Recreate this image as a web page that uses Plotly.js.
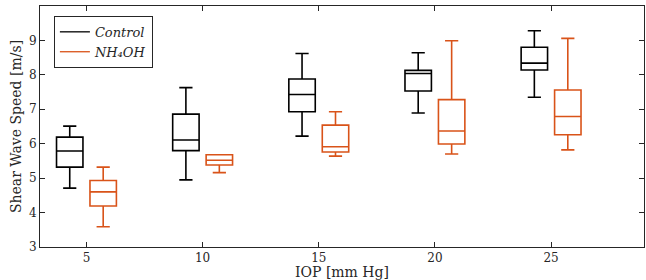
<!DOCTYPE html>
<html>
<head>
<meta charset="utf-8">
<script src="https://cdn.plot.ly/plotly-3.0.1.min.js"></script>
<style>html,body{margin:0;padding:0;background:#fff;}#chart{width:646px;height:280px;}</style>
</head>
<body>
<div id="chart"></div>
<script>
// IOP levels (mm Hg)
const iop = [5, 10, 15, 20, 25];
const xTicks = [5, 10, 15, 20, 25];
const yTicks = [3, 4, 5, 6, 7, 8, 9, 10];

// Control box statistics (m/s)
const ctrlLower  = [4.71, 4.95, 6.22, 6.89, 7.35];
const ctrlQ1     = [5.32, 5.80, 6.93, 7.53, 8.14];
const ctrlMedian = [5.79, 6.11, 7.43, 8.04, 8.34];
const ctrlQ3     = [6.19, 6.86, 7.88, 8.13, 8.80];
const ctrlUpper  = [6.51, 7.63, 8.62, 8.64, 9.28];

// NH4OH box statistics (m/s)
const nhLower  = [3.59, 5.16, 5.64, 5.70, 5.82];
const nhQ1     = [4.19, 5.38, 5.76, 5.99, 6.26];
const nhMedian = [4.60, 5.52, 5.91, 6.37, 6.79];
const nhQ3     = [4.93, 5.68, 6.54, 7.28, 7.56];
const nhUpper  = [5.32, 5.68, 6.93, 8.99, 9.06];

const black = '#000000';
const orange = '#D95319';
const font = 'DejaVu Serif';

function boxTrace(name, color, lo, q1, med, q3, hi) {
  return {
    type: 'box', name: name, x: iop,
    lowerfence: lo, q1: q1, median: med, q3: q3, upperfence: hi,
    line: {color: color, width: 1.6},
    fillcolor: 'rgba(0,0,0,0)',
    whiskerwidth: 0.5,
    boxpoints: false,
    showlegend: false,
    hoverinfo: 'skip'
  };
}

const data = [
  boxTrace('Control', black, ctrlLower, ctrlQ1, ctrlMedian, ctrlQ3, ctrlUpper),
  boxTrace('NH4OH', orange, nhLower, nhQ1, nhMedian, nhQ3, nhUpper),
  {type: 'scatter', mode: 'lines', x: [null], y: [null], name: '<i>Control</i>',
   line: {color: black, width: 1.3}, showlegend: true},
  {type: 'scatter', mode: 'lines', x: [null], y: [null], name: '<i>NH₄OH</i>',
   line: {color: orange, width: 1.3}, showlegend: true}
];

const axisCommon = {
  showline: true, linecolor: '#262626', linewidth: 1, mirror: 'ticks',
  ticks: 'inside', ticklen: 5, tickcolor: '#262626', tickwidth: 1,
  showgrid: false, zeroline: false,
  tickfont: {family: font, size: 12, color: '#262626'}
};

const layout = {
  width: 646, height: 280,
  margin: {l: 40, r: 2, t: 6, b: 33},
  paper_bgcolor: '#fff', plot_bgcolor: '#fff',
  font: {family: font, color: '#262626'},
  boxmode: 'group', boxgap: 0.424, boxgroupgap: 0.21,
  xaxis: Object.assign({}, axisCommon, {
    range: [3, 29], tickvals: xTicks, ticktext: xTicks.map(String),
    title: {text: 'IOP [mm Hg]', font: {family: font, size: 14, color: '#262626'}, standoff: 0}
  }),
  yaxis: Object.assign({}, axisCommon, {
    range: [3, 10], tickvals: yTicks, ticktext: yTicks.map(String),
    title: {text: 'Shear Wave Speed [m/s]', font: {family: font, size: 14, color: '#262626'}, standoff: 4}
  }),
  legend: {
    x: 0.023, y: 0.959, xanchor: 'left', yanchor: 'top',
    bordercolor: '#262626', borderwidth: 1, bgcolor: '#fff',
    font: {family: font, size: 13, color: '#262626'},
    tracegroupgap: 0, itemwidth: 30
  },
  showlegend: true
};

Plotly.newPlot('chart', data, layout, {displayModeBar: false, staticPlot: true});
</script>
</body>
</html>
